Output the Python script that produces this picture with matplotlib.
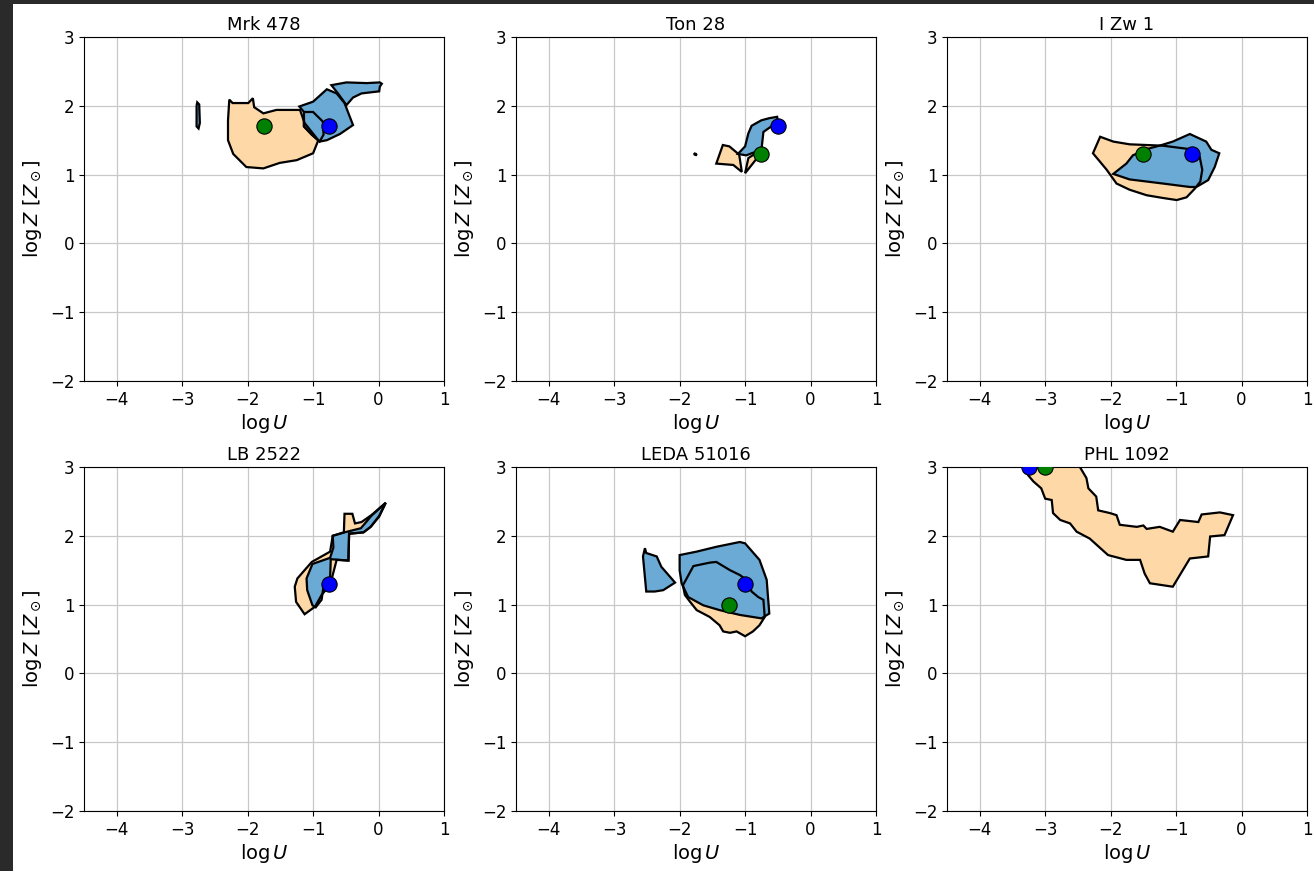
import matplotlib
matplotlib.use("Agg")
import matplotlib.pyplot as plt
from matplotlib.patches import Polygon, Rectangle

# Confidence regions (log U, log Z), one list per contour piece
mrk478_orange = [(-2.28, 2.09), (-2.23, 2.04), (-1.99, 2.04), (-1.92, 2.11), (-1.90, 1.98),
                 (-1.76, 1.89), (-1.56, 1.94), (-1.20, 1.94), (-1.13, 1.75), (-0.92, 1.50),
                 (-1.00, 1.31), (-1.25, 1.21), (-1.51, 1.17), (-1.76, 1.09), (-2.02, 1.11),
                 (-2.22, 1.30), (-2.30, 1.50), (-2.30, 1.79)]
mrk478_blue = [(-1.21, 1.99), (-1.00, 2.06), (-0.79, 2.24), (-0.64, 2.18), (-0.52, 2.04),
               (-0.39, 1.72), (-0.59, 1.59), (-0.79, 1.50), (-0.90, 1.48), (-1.02, 1.58),
               (-1.14, 1.70), (-1.14, 1.91)]
mrk478_blue_inner = [(-1.14, 1.91), (-1.00, 1.91), (-0.85, 1.77), (-0.84, 1.58), (-0.90, 1.48),
                     (-1.02, 1.58), (-1.14, 1.70)]
mrk478_blue_top = [(-0.72, 2.30), (-0.49, 2.34), (-0.18, 2.33), (0.02, 2.34), (0.05, 2.32),
                   (0.02, 2.28), (0.01, 2.21), (-0.26, 2.18), (-0.39, 2.12), (-0.49, 2.01),
                   (-0.62, 2.18)]
mrk478_blue_sliver = [(-2.77, 2.05), (-2.74, 2.02), (-2.73, 1.75), (-2.75, 1.67),
                      (-2.78, 1.70), (-2.78, 2.00)]

ton28_orange_a = [(-1.44, 1.16), (-1.34, 1.43), (-1.24, 1.41), (-1.09, 1.29), (-1.05, 1.04),
                  (-1.18, 1.14)]
ton28_orange_b = [(-1.00, 1.02), (-0.95, 1.24), (-0.87, 1.29), (-0.80, 1.26), (-0.90, 1.14)]
ton28_blue = [(-0.90, 1.71), (-0.75, 1.79), (-0.63, 1.82), (-0.51, 1.84), (-0.50, 1.77),
              (-0.57, 1.72), (-0.72, 1.62), (-0.75, 1.36), (-0.90, 1.31), (-0.98, 1.28),
              (-1.11, 1.30), (-1.00, 1.41), (-0.95, 1.60)]
ton28_blue_speck = [(-1.78, 1.31), (-1.75, 1.30), (-1.74, 1.28), (-1.77, 1.29)]

izw1_orange = [(-2.27, 1.31), (-2.16, 1.55), (-1.96, 1.48), (-1.71, 1.44), (-1.45, 1.43),
               (-1.20, 1.42), (-0.79, 1.37), (-0.64, 1.26), (-0.60, 1.07), (-0.63, 0.90),
               (-0.71, 0.80), (-0.84, 0.67), (-0.99, 0.63), (-1.20, 0.66), (-1.45, 0.70),
               (-1.71, 0.78), (-1.91, 0.87), (-2.06, 1.07)]
izw1_blue = [(-1.96, 1.01), (-1.76, 1.16), (-1.66, 1.28), (-1.45, 1.37), (-1.22, 1.43),
             (-1.05, 1.48), (-0.79, 1.59), (-0.54, 1.48), (-0.46, 1.36), (-0.34, 1.31),
             (-0.41, 1.11), (-0.51, 0.92), (-0.69, 0.82), (-0.79, 0.82), (-1.20, 0.87),
             (-1.71, 0.93)]

lb2522_orange = [(-1.26, 1.04), (-1.28, 1.26), (-1.24, 1.38), (-1.02, 1.62), (-0.74, 1.77),
                 (-0.70, 2.00), (-0.53, 2.05), (-0.52, 2.32), (-0.40, 2.32), (-0.36, 2.18),
                 (-0.26, 2.20), (-0.11, 2.30), (0.11, 2.48), (0.01, 2.28), (-0.12, 2.13),
                 (-0.23, 2.05), (-0.45, 2.03), (-0.46, 1.64), (-0.64, 1.65), (-0.70, 1.43),
                 (-0.74, 1.29), (-0.87, 1.14), (-0.97, 0.97), (-1.13, 0.86)]
lb2522_blue = [(0.11, 2.48), (0.01, 2.29), (-0.12, 2.13), (-0.23, 2.05), (-0.45, 2.03),
               (-0.46, 1.64), (-0.73, 1.66), (-0.74, 1.38), (-0.84, 1.27), (-0.87, 1.07),
               (-0.96, 0.96), (-1.01, 0.99), (-1.09, 1.21), (-1.10, 1.38), (-1.01, 1.59),
               (-0.74, 1.68), (-0.69, 1.83), (-0.70, 2.00), (-0.52, 2.05), (-0.27, 2.11),
               (-0.11, 2.29)]

leda_orange = [(-1.95, 1.28), (-1.79, 1.56), (-1.54, 1.61), (-1.44, 1.62), (-1.23, 1.50),
               (-1.08, 1.43), (-0.98, 1.36), (-0.90, 1.19), (-0.80, 1.11), (-0.72, 1.07),
               (-0.70, 0.82), (-0.78, 0.70), (-0.88, 0.61), (-1.00, 0.54), (-1.13, 0.61),
               (-1.23, 0.59), (-1.335, 0.61), (-1.39, 0.70), (-1.54, 0.82), (-1.74, 0.92),
               (-1.84, 1.04), (-1.92, 1.14)]
leda_blue = [(-2.00, 1.72), (-1.74, 1.77), (-1.44, 1.84), (-1.08, 1.91), (-1.00, 1.89),
             (-0.78, 1.65), (-0.67, 1.36), (-0.65, 1.11), (-0.63, 0.87), (-0.75, 0.80),
             (-1.08, 0.85), (-1.39, 0.92), (-1.64, 0.99), (-1.87, 1.11), (-1.97, 1.31),
             (-2.00, 1.50)]
leda_blue_left = [(-2.53, 1.82), (-2.51, 1.75), (-2.35, 1.70), (-2.28, 1.55), (-2.07, 1.32),
                  (-2.25, 1.21), (-2.38, 1.19), (-2.51, 1.19), (-2.56, 1.70)]

phl1092_orange = [(-3.30, 3.20), (-3.28, 3.00), (-3.26, 2.88), (-3.18, 2.79), (-3.06, 2.69),
                  (-3.00, 2.54), (-2.90, 2.52), (-2.88, 2.33), (-2.77, 2.23), (-2.62, 2.18),
                  (-2.52, 2.06), (-2.32, 1.96), (-2.04, 1.72), (-1.76, 1.65), (-1.55, 1.65),
                  (-1.48, 1.45), (-1.40, 1.31), (-1.05, 1.26), (-0.79, 1.67), (-0.51, 1.70),
                  (-0.48, 1.99), (-0.26, 2.01), (-0.13, 2.30), (-0.33, 2.34), (-0.61, 2.31),
                  (-0.66, 2.20), (-0.94, 2.23), (-1.05, 2.06), (-1.25, 2.13), (-1.45, 2.10),
                  (-1.50, 2.15), (-1.60, 2.13), (-1.86, 2.16), (-1.91, 2.30), (-2.01, 2.33),
                  (-2.19, 2.37), (-2.22, 2.57), (-2.34, 2.69), (-2.37, 2.84), (-2.47, 3.00),
                  (-2.50, 3.20)]

names = ["Mrk 478", "Ton 28", "I Zw 1", "LB 2522", "LEDA 51016", "PHL 1092"]
orange_regions = [[mrk478_orange], [ton28_orange_a, ton28_orange_b], [izw1_orange],
                  [lb2522_orange], [leda_orange], [phl1092_orange]]
blue_regions = [[mrk478_blue, mrk478_blue_inner, mrk478_blue_top, mrk478_blue_sliver],
                [ton28_blue, ton28_blue_speck], [izw1_blue], [lb2522_blue],
                [leda_blue, leda_blue_left], []]
# best-fit points (log U, log Z); None where not shown
green_best = [(-1.75, 1.7), (-0.75, 1.3), (-1.5, 1.3), None, (-1.25, 1.0), (-3.0, 3.0)]
blue_best = [(-0.75, 1.7), (-0.5, 1.7), (-0.75, 1.3), (-0.75, 1.3), (-1.0, 1.3), (-3.25, 3.0)]

ORANGE = "#fed8a6"
BLUE = "#6aaad5"

fig = plt.figure(figsize=(13.14, 8.71), dpi=100)
fig.patch.set_facecolor("#2a2a2a")
fig.add_artist(Rectangle((13 / 1314, 0), 1, 1 - 4 / 871, transform=fig.transFigure,
                         facecolor="white", edgecolor="none", zorder=0))

lefts = [84 / 1314, 516 / 1314, 947 / 1314]
bottoms = [1 - 381 / 871, 1 - 811 / 871]
w, h = 360 / 1314, 344 / 871

for i, name in enumerate(names):
    ax = fig.add_axes([lefts[i % 3], bottoms[i // 3], w, h])
    ax.set_xlim(-4.5, 1)
    ax.set_ylim(-2, 3)
    ax.set_xticks([-4, -3, -2, -1, 0, 1])
    ax.set_yticks([-2, -1, 0, 1, 2, 3])
    ax.grid(True, color="#c8c8c8", linewidth=0.9)
    ax.set_axisbelow(True)
    ax.tick_params(labelsize=12)

    # fills first, outlines on top so every contour edge stays visible
    for poly in orange_regions[i]:
        ax.add_patch(Polygon(poly, closed=True, facecolor=ORANGE, edgecolor="none", zorder=2))
    for poly in blue_regions[i]:
        ax.add_patch(Polygon(poly, closed=True, facecolor=BLUE, edgecolor="none", zorder=3))
    for poly in orange_regions[i] + blue_regions[i]:
        ax.add_patch(Polygon(poly, closed=True, facecolor="none", edgecolor="black",
                             linewidth=1.6, zorder=4))

    if green_best[i] is not None:
        ax.plot(*green_best[i], "o", color="green", markeredgecolor="black",
                markersize=11, markeredgewidth=0.8, zorder=5)
    if blue_best[i] is not None:
        ax.plot(*blue_best[i], "o", color="blue", markeredgecolor="black",
                markersize=11, markeredgewidth=0.8, zorder=6)

    ax.set_title(name, fontsize=13, pad=5)
    ax.set_xlabel(r"$\log U$", fontsize=14, labelpad=2)
    ax.set_ylabel(r"$\log Z\ [Z_\odot]$", fontsize=14)

fig.savefig("out.png", dpi=100, facecolor=fig.get_facecolor())
